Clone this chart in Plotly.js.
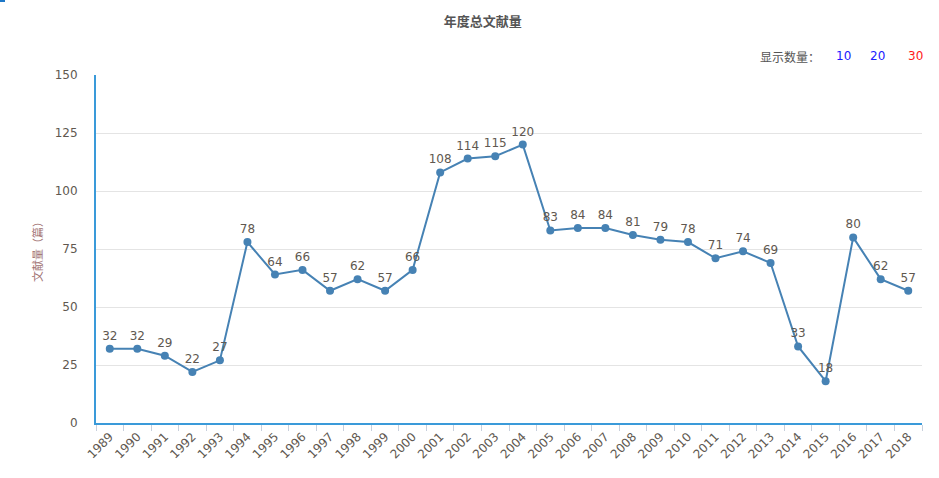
<!DOCTYPE html>
<html>
<head>
<meta charset="utf-8">
<script src="https://cdn.plot.ly/plotly-3.0.1.min.js"></script>
<style>
  html, body { margin: 0; padding: 0; background: #fff; }
  #chart { width: 939px; height: 478px; }
</style>
</head>
<body>
<div id="chart"></div>
<script>
// Data
const years = ["1989", "1990", "1991", "1992", "1993", "1994", "1995", "1996", "1997", "1998",
               "1999", "2000", "2001", "2002", "2003", "2004", "2005", "2006", "2007", "2008",
               "2009", "2010", "2011", "2012", "2013", "2014", "2015", "2016", "2017", "2018"];
const counts = [32, 32, 29, 22, 27, 78, 64, 66, 57, 62,
                57, 66, 108, 114, 115, 120, 83, 84, 84, 81,
                79, 78, 71, 74, 69, 33, 18, 80, 62, 57];
const yTicks = [0, 25, 50, 75, 100, 125, 150];

const cjkFont = '"Noto Sans CJK SC", "Noto Sans", sans-serif';
const numFont = '"DejaVu Sans", "Noto Sans CJK SC", sans-serif';
const textColor = "#605850";

const trace = {
    x: years,
    y: counts,
    type: "scatter",
    mode: "lines+markers+text",
    text: counts.map(String),
    textposition: "top center",
    textfont: { family: numFont, size: 12, color: textColor },
    line: { color: "#4682b4", width: 2 },
    marker: { color: "#4682b4", size: 8 },
    cliponaxis: false,
    hoverinfo: "x+y"
};

const layout = {
    width: 939,
    height: 478,
    margin: { l: 96, r: 17, t: 75, b: 55 },
    paper_bgcolor: "#fff",
    plot_bgcolor: "#fff",
    showlegend: false,
    font: { family: numFont, color: textColor },
    title: {
        text: "<b>年度总文献量</b>",
        font: { family: cjkFont, size: 13, color: "#555" },
        x: 0.514, xanchor: "center",
        y: 0.955, yanchor: "middle"
    },
    xaxis: {
        type: "category",
        range: [-0.5, years.length - 0.5],
        tickangle: -45,
        tickfont: { family: numFont, size: 12, color: textColor },
        showline: true,
        linecolor: "#3a9ad9",
        linewidth: 2,
        showgrid: false,
        ticks: "outside",
        ticklen: 6,
        tickcolor: "#c8d0dc",
        tickson: "boundaries",
        zeroline: false,
        fixedrange: true
    },
    yaxis: {
        range: [0, 150],
        tickvals: yTicks,
        ticktext: yTicks.map(String),
        tickfont: { family: numFont, size: 12, color: textColor },
        showline: true,
        linecolor: "#3a9ad9",
        linewidth: 2,
        showgrid: true,
        gridcolor: "#e4e4e4",
        gridwidth: 1,
        zeroline: false,
        ticks: "",
        ticklabelstandoff: 14,
        title: {
            text: "文献量（篇）",
            font: { family: cjkFont, size: 11, color: "#a07070" },
            standoff: 10
        },
        fixedrange: true
    },
    shapes: [
        { type: "rect", xref: "paper", yref: "paper",
          x0: -96 / 826, x1: -91 / 826, y0: 1 + 73 / 348, y1: 1 + 75 / 348,
          fillcolor: "#1e78c8", line: { width: 0 } }
    ],
    annotations: [
        { xref: "paper", yref: "paper", x: (822 - 96) / 826, y: 1 + 19 / 348,
          xanchor: "right", yanchor: "middle", showarrow: false,
          text: "显示数量：", font: { family: cjkFont, size: 12, color: "#555" } },
        { xref: "paper", yref: "paper", x: (843 - 96) / 826, y: 1 + 19 / 348,
          xanchor: "center", yanchor: "middle", showarrow: false,
          text: "10", font: { family: numFont, size: 12, color: "#1a1aff" } },
        { xref: "paper", yref: "paper", x: (877 - 96) / 826, y: 1 + 19 / 348,
          xanchor: "center", yanchor: "middle", showarrow: false,
          text: "20", font: { family: numFont, size: 12, color: "#1a1aff" } },
        { xref: "paper", yref: "paper", x: (915 - 96) / 826, y: 1 + 19 / 348,
          xanchor: "center", yanchor: "middle", showarrow: false,
          text: "30", font: { family: numFont, size: 12, color: "#ff1a1a" } }
    ]
};

Plotly.newPlot("chart", [trace], layout, { displayModeBar: false, staticPlot: true });
</script>
</body>
</html>
